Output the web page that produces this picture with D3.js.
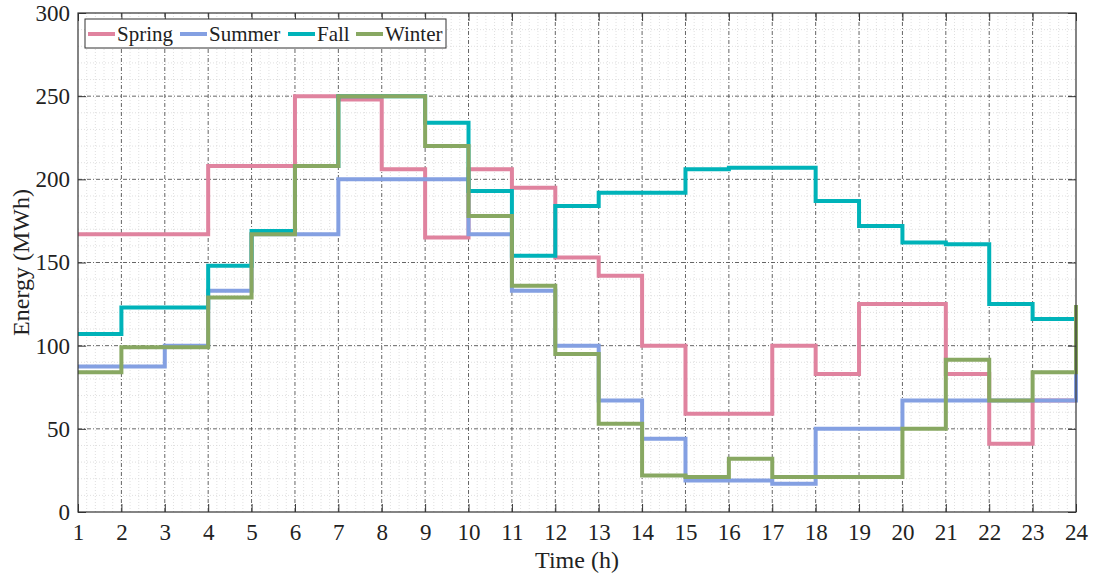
<!DOCTYPE html>
<html>
<head>
<meta charset="utf-8">
<script src="https://cdn.jsdelivr.net/npm/d3@7"></script>
<style>
  body { margin: 0; background: #fff; }
  text { font-family: "Liberation Serif", "Times New Roman", serif; fill: #222; }
</style>
</head>
<body>
<div id="chart"></div>
<script>
// hours 1..24 (stairs: value holds from h to h+1, last value is the end of the final vertical)
const hours = d3.range(1, 25)
const spring = [167, 167, 167, 208, 208, 250, 248, 206, 165, 206, 195, 153, 142, 100, 59, 59, 100, 83, 125, 125, 83, 41, 67, 67]
const summer = [87.5, 87.5, 100, 133, 167, 167, 200, 200, 200, 167, 133, 100, 67, 44, 19, 19, 17, 50, 50, 67, 67, 67, 67, 83]
const fall = [107, 123, 123, 148, 169, 208, 250, 250, 234, 193, 154, 184, 192, 192, 206, 207, 207, 187, 172, 162, 161, 125, 116, 116]
const winter = [84, 99, 99, 129, 167, 208, 250, 250, 220, 178, 136, 95, 53, 22, 21, 32, 21, 21, 21, 50, 91.5, 67, 84, 124.5]
const seriesNames = ["Spring", "Summer", "Fall", "Winter"]
const seriesColors = ["#e0839f", "#84a0e2", "#00b3b9", "#88a862"]
const yTicks = [0, 50, 100, 150, 200, 250, 300]

const W = 1093, H = 578
const margin = { left: 78, right: 17, top: 13, bottom: 66 }
const width = W - margin.left - margin.right
const height = H - margin.top - margin.bottom
const serif = "'Liberation Serif', 'Times New Roman', serif"

const svg = d3.select("#chart").append("svg")
    .attr("width", W)
    .attr("height", H)

const g = svg.append("g")
    .attr("transform", "translate(" + margin.left + "," + margin.top + ")")

const x = d3.scaleLinear().domain([1, 24]).range([0, width])
const y = d3.scaleLinear().domain([0, 300]).range([height, 0])

// minor grid
const minorX = d3.range(1, 24.001, 0.2).filter(v => Math.abs(v - Math.round(v)) > 1e-6)
const minorY = d3.range(0, 301, 10).filter(v => v % 50 !== 0)
g.append("g").selectAll("line").data(minorX).enter().append("line")
    .attr("x1", d => x(d)).attr("x2", d => x(d))
    .attr("y1", 0).attr("y2", height)
    .attr("stroke", "#d8d8d8").attr("stroke-width", 0.8).attr("stroke-dasharray", "1,2")
g.append("g").selectAll("line").data(minorY).enter().append("line")
    .attr("y1", d => y(d)).attr("y2", d => y(d))
    .attr("x1", 0).attr("x2", width)
    .attr("stroke", "#d8d8d8").attr("stroke-width", 0.8).attr("stroke-dasharray", "1,2")

// major grid
g.append("g").selectAll("line").data(hours.slice(1, -1)).enter().append("line")
    .attr("x1", d => x(d)).attr("x2", d => x(d))
    .attr("y1", 0).attr("y2", height)
    .attr("stroke", "#555").attr("stroke-width", 0.9).attr("stroke-dasharray", "4,2,1,2")
g.append("g").selectAll("line").data(yTicks.slice(1, -1)).enter().append("line")
    .attr("y1", d => y(d)).attr("y2", d => y(d))
    .attr("x1", 0).attr("x2", width)
    .attr("stroke", "#555").attr("stroke-width", 0.9).attr("stroke-dasharray", "4,2,1,2")

// series
const line = d3.line()
    .x((d, i) => x(hours[i]))
    .y(d => y(d))
    .curve(d3.curveStepAfter)

const allSeries = [spring, summer, fall, winter]
allSeries.forEach((s, k) => {
    g.append("path")
        .datum(s)
        .attr("fill", "none")
        .attr("stroke", seriesColors[k])
        .attr("stroke-width", 4)
        .attr("d", line)
})

// axes
const xAxisCall = d3.axisBottom(x).tickValues(hours).tickSizeInner(-8).tickSizeOuter(0).tickPadding(12)
g.append("g")
    .attr("class", "axisX")
    .attr("transform", "translate(0," + height + ")")
    .call(xAxisCall)
const yAxisCall = d3.axisLeft(y).tickValues(yTicks).tickSizeInner(-8).tickSizeOuter(0).tickPadding(8)
g.append("g")
    .attr("class", "axisY")
    .call(yAxisCall)
// ticks on top and right
g.append("g").call(d3.axisTop(x).tickValues(hours).tickSizeInner(-8).tickSizeOuter(0).tickFormat(""))
g.append("g").attr("transform", "translate(" + width + ",0)")
    .call(d3.axisRight(y).tickValues(yTicks).tickSizeInner(-8).tickSizeOuter(0).tickFormat(""))

svg.selectAll(".domain").remove()
svg.selectAll(".axisX, .axisY").attr("font-family", serif).attr("font-size", 23)
svg.selectAll(".tick line").attr("stroke", "#333").attr("stroke-width", 1)
svg.selectAll(".tick text").attr("fill", "#222")

// box
g.append("rect")
    .attr("width", width).attr("height", height)
    .attr("fill", "none").attr("stroke", "#333").attr("stroke-width", 1.2)

// labels
svg.append("text")
    .attr("x", margin.left + width / 2)
    .attr("y", 568)
    .attr("font-size", "24px")
    .style("text-anchor", "middle")
    .text("Time (h)")
svg.append("text")
    .attr("transform", "rotate(-90)")
    .attr("x", -(margin.top + height / 2))
    .attr("y", 29)
    .attr("font-size", "24px")
    .style("text-anchor", "middle")
    .text("Energy (MWh)")

// legend
const legend = svg.append("g").attr("transform", "translate(85,19)")
legend.append("rect")
    .attr("width", 361).attr("height", 29)
    .attr("fill", "#fff").attr("stroke", "#333").attr("stroke-width", 1)
const legendX = [3, 95, 203, 271]
seriesNames.forEach((name, k) => {
    legend.append("line")
        .attr("x1", legendX[k]).attr("x2", legendX[k] + 27)
        .attr("y1", 15).attr("y2", 15)
        .attr("stroke", seriesColors[k]).attr("stroke-width", 4)
    legend.append("text")
        .attr("x", legendX[k] + 29)
        .attr("y", 22)
        .attr("font-size", "21px")
        .text(name)
})
</script>
</body>
</html>
